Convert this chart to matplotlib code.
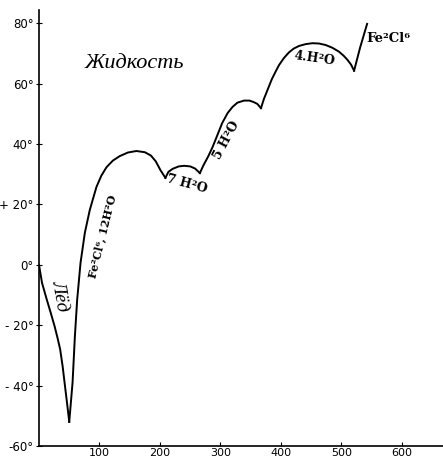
import matplotlib
matplotlib.use("Agg")
import matplotlib.pyplot as plt

# branches of the freezing / solubility curve (x, temperature)
ice_x = [0, 5, 13, 20, 26, 31, 35, 39, 43, 46.5, 50]
ice_t = [0, -6, -11.6, -16.3, -20.5, -24.5, -28, -33.5, -40.2, -46, -52]

h12_x = [50, 55.5, 59.3, 63.1, 68.7, 75.8, 84, 95, 103, 111.5, 122, 133.4, 147, 161, 175, 185, 193, 201, 209]
h12_t = [-52, -39, -23.8, -11.6, 0.7, 10.6, 18.2, 25.8, 29.5, 32.3, 34.5, 36.0, 37.2, 37.7, 37.3, 36.2, 34.3, 31.3, 28.8]

h7_x = [209, 214, 221, 231, 240, 250, 258, 266]
h7_t = [28.8, 30.8, 31.8, 32.6, 32.8, 32.6, 31.9, 30.4]

h5_x = [266, 272, 280, 287, 295, 303, 312, 320, 328, 339, 348, 355, 361, 367]
h5_t = [30.4, 33, 36, 39, 43, 47, 50.3, 52.3, 53.7, 54.4, 54.4, 53.9, 53.3, 51.9]

h4_x = [367, 372, 378, 385, 392, 397, 405, 413, 421, 430, 441, 452, 463, 474, 485, 496, 504, 510, 516, 521]
h4_t = [51.9, 55, 58, 61.5, 64.3, 66.2, 68.5, 70.3, 71.6, 72.5, 73.1, 73.4, 73.3, 72.8, 71.9, 70.6, 69.2, 67.9, 66.3, 64.3]

anh_x = [521, 531, 542.5]
anh_t = [64.3, 72, 79.8]

x_ticks = [100, 200, 300, 400, 500, 600]
y_ticks = [80, 60, 40, 20, 0, -20, -40, -60]
y_labels = ["80°", "60°", "40°", "+ 20°", "0°", "- 20°", "- 40°", "-60°"]

fig = plt.figure(figsize=(4.43, 4.61), dpi=100)
ax = fig.add_axes([39 / 443, 15 / 461, 404 / 443, 436 / 461])

for xs, ts in [(ice_x, ice_t), (h12_x, h12_t), (h7_x, h7_t),
               (h5_x, h5_t), (h4_x, h4_t), (anh_x, anh_t)]:
    ax.plot(xs, ts, color="black", lw=1.4, solid_joinstyle="round")

ax.set_xlim(0, 668)
ax.set_ylim(-60, 84.4)
ax.spines["top"].set_visible(False)
ax.spines["right"].set_visible(False)
ax.spines["left"].set_linewidth(1.2)
ax.spines["bottom"].set_linewidth(1.2)

ax.set_xticks(x_ticks)
ax.set_xticklabels([str(v) for v in x_ticks], fontsize=8, family="DejaVu Sans")
ax.set_yticks(y_ticks)
ax.set_yticklabels(y_labels, fontsize=8.5, family="DejaVu Sans")
ax.tick_params(axis="x", direction="in", length=3, width=0.8, pad=1.5)
ax.tick_params(axis="y", direction="inout", length=4, width=0.8, pad=2)

serif = "DejaVu Serif"
ax.text(158, 66.6, "Жидкость", fontsize=16, style="italic", family="Liberation Serif",
        ha="center", va="center")
ax.text(33.5, -10.3, "Лёд", fontsize=14, style="italic", family="Liberation Serif",
        rotation=-80, ha="center", va="center")
ax.text(104, 9.3, "Fe²Cl⁶, 12H²O", fontsize=8, weight="bold", family=serif,
        rotation=76, ha="center", va="center")
ax.text(244, 26.8, "7 H²O", fontsize=9, weight="bold", family=serif,
        rotation=-15, ha="center", va="center")
ax.text(310, 41.4, "5 H²O", fontsize=9, weight="bold", family=serif,
        rotation=62, ha="center", va="center")
ax.text(455, 68.5, "4.H²O", fontsize=9, weight="bold", family=serif,
        rotation=-8, ha="center", va="center")
ax.text(578, 74.8, "Fe²Cl⁶", fontsize=9.5, weight="bold", family=serif,
        ha="center", va="center")

fig.savefig("out.png", dpi=100)
